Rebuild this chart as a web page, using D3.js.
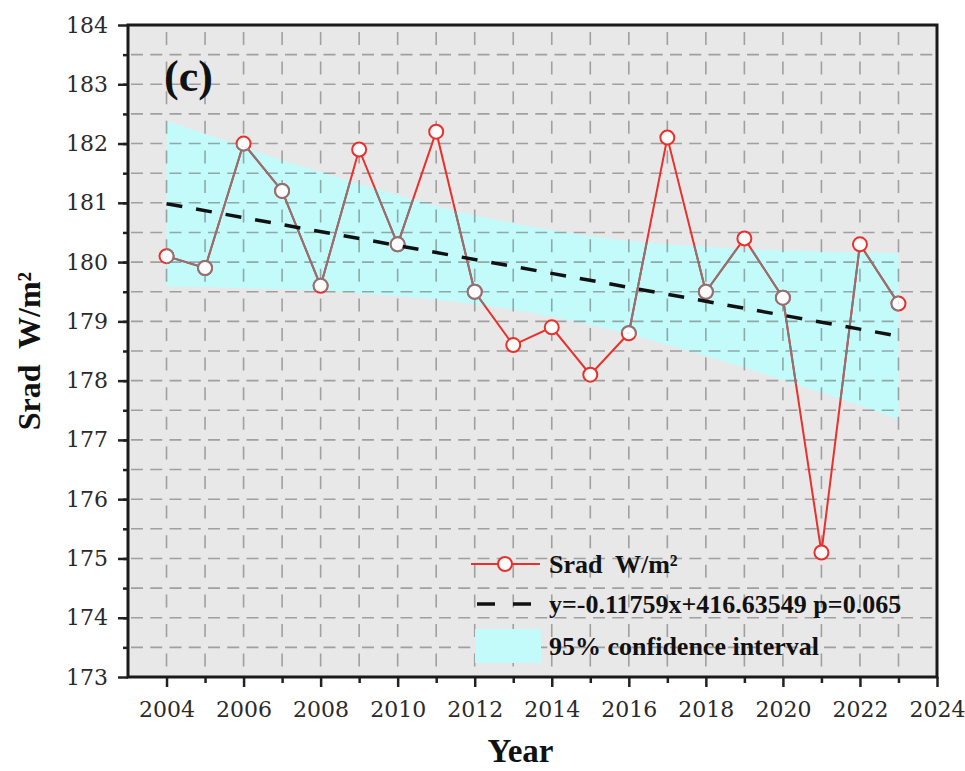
<!DOCTYPE html>
<html lang="en">
<head>
<meta charset="utf-8">
<script src="https://d3js.org/d3.v7.min.js"></script>
<style>
  body { margin: 0; background: #fff; }
  svg text { white-space: pre; }
</style>
</head>
<body>
<script>
  // data
  const years = [2004, 2005, 2006, 2007, 2008, 2009, 2010, 2011, 2012, 2013,
                 2014, 2015, 2016, 2017, 2018, 2019, 2020, 2021, 2022, 2023];
  const srad = [180.1, 179.9, 182.0, 181.2, 179.6, 181.9, 180.3, 182.2, 179.5, 178.6,
                178.9, 178.1, 178.8, 182.1, 179.5, 180.4, 179.4, 175.1, 180.3, 179.3];
  const ciUpper = [182.39, 182.16, 181.94, 181.72, 181.52, 181.32, 181.13, 180.95, 180.79, 180.66,
                   180.54, 180.44, 180.36, 180.30, 180.26, 180.22, 180.20, 180.18, 180.16, 180.15];
  const ciLower = [179.59, 179.58, 179.56, 179.54, 179.52, 179.47, 179.43, 179.37, 179.29, 179.20,
                   179.08, 178.94, 178.79, 178.60, 178.42, 178.22, 178.01, 177.80, 177.58, 177.35];
  const slope = -0.11759, intercept = 416.63549;
  const xTicks = [2004, 2006, 2008, 2010, 2012, 2014, 2016, 2018, 2020, 2022, 2024];
  const yTicks = [173, 174, 175, 176, 177, 178, 179, 180, 181, 182, 183, 184];
  const legendLabels = ["Srad  W/m\u00b2", "y=-0.11759x+416.63549 p=0.065", "95% confidence interval"];

  const W = 965, H = 771;
  const pLeft = 128, pRight = 937, pTop = 25, pBottom = 677;

  const x = d3.scaleLinear().domain([2003, 2024]).range([pLeft, pRight]);
  const y = d3.scaleLinear().domain([173, 184]).range([pBottom, pTop]);

  const svg = d3.select("body").append("svg").attr("width", W).attr("height", H);

  // plot background
  svg.append("rect").attr("x", pLeft).attr("y", pTop)
    .attr("width", pRight - pLeft).attr("height", pBottom - pTop).attr("fill", "#e8e8e8");

  const rows = years.map((yr, i) => ({ yr: yr, v: srad[i], hi: ciUpper[i], lo: ciLower[i] }));

  const area = d3.area().curve(d3.curveMonotoneX)
    .x(d => x(d.yr)).y0(d => y(d.lo)).y1(d => y(d.hi));

  // confidence band
  svg.append("path").datum(rows).attr("d", area).attr("fill", "#c3fbfb");

  svg.append("clipPath").attr("id", "bandclip")
    .append("path").datum(rows).attr("d", area);

  // dashed grid
  const grid = svg.append("g").attr("stroke", "rgba(100,100,100,0.55)").attr("stroke-width", 1.6);
  d3.range(2004, 2024).forEach(yr => {
    grid.append("line").attr("x1", x(yr)).attr("x2", x(yr)).attr("y1", pTop).attr("y2", pBottom)
      .attr("stroke-dasharray", "13,16.6").attr("stroke-dashoffset", -7);
  });
  d3.range(173.5, 184, 0.5).forEach(v => {
    grid.append("line").attr("x1", pLeft).attr("x2", pRight).attr("y1", y(v)).attr("y2", y(v))
      .attr("stroke-dasharray", "12,7.25").attr("stroke-dashoffset", -3);
  });

  const line = d3.line().x(d => x(d.yr)).y(d => y(d.v));

  function drawSeries(g, col) {
    g.append("path").datum(rows).attr("d", line)
      .attr("fill", "none").attr("stroke", col).attr("stroke-width", 2);
    g.selectAll("circle").data(rows).enter().append("circle")
      .attr("cx", d => x(d.yr)).attr("cy", d => y(d.v)).attr("r", 7)
      .attr("fill", "#fbfbfb").attr("stroke", col).attr("stroke-width", 2);
  }
  drawSeries(svg.append("g"), "#e8302c");
  // part of the series seen through the band looks greyish
  drawSeries(svg.append("g").attr("clip-path", "url(#bandclip)"), "#8f7373");

  // regression line
  svg.append("path").datum([years[0], years[years.length - 1]])
    .attr("d", d3.line().x(d => x(d)).y(d => y(slope * d + intercept)))
    .attr("fill", "none").attr("stroke", "#111").attr("stroke-width", 3.5)
    .attr("stroke-dasharray", "16,14");

  // axes
  const tickFont = "'DejaVu Serif', serif";
  const gx = svg.append("g").attr("transform", `translate(0,${pBottom})`)
    .call(d3.axisBottom(x).tickValues(xTicks).tickFormat(d3.format("d")).tickSize(10).tickPadding(14));
  const gxm = svg.append("g").attr("transform", `translate(0,${pBottom})`)
    .call(d3.axisBottom(x).tickValues(d3.range(2005, 2024, 2)).tickFormat("").tickSize(6));
  const gy = svg.append("g").attr("transform", `translate(${pLeft},0)`)
    .call(d3.axisLeft(y).tickValues(yTicks).tickFormat(d3.format("d")).tickSize(10).tickPadding(10));
  const gym = svg.append("g").attr("transform", `translate(${pLeft},0)`)
    .call(d3.axisLeft(y).tickValues(d3.range(173.5, 184, 0.5)).tickFormat("").tickSize(5));
  [gx, gxm, gy, gym].forEach(g => {
    g.select(".domain").remove();
    g.selectAll("line").attr("stroke", "#222").attr("stroke-width", 2.5);
    g.selectAll("text").attr("font-family", tickFont).attr("font-size", 22).attr("fill", "#2a2a2a");
  });

  // frame
  svg.append("rect").attr("x", pLeft).attr("y", pTop)
    .attr("width", pRight - pLeft).attr("height", pBottom - pTop)
    .attr("fill", "none").attr("stroke", "#1a1a1a").attr("stroke-width", 3);

  const boldFont = "'Liberation Serif', 'Times New Roman', serif";

  svg.append("text").attr("x", 164).attr("y", 91).text("(c)")
    .attr("font-family", boldFont).attr("font-weight", "bold").attr("font-size", 44).attr("fill", "#111");

  svg.append("text").attr("x", (pLeft + pRight) / 2 - 12).attr("y", 762).attr("text-anchor", "middle")
    .text("Year").attr("font-family", boldFont).attr("font-weight", "bold").attr("font-size", 33).attr("fill", "#111");

  svg.append("text").attr("transform", `translate(40,${(pTop + pBottom) / 2}) rotate(-90)`)
    .attr("text-anchor", "middle").text("Srad  W/m\u00b2")
    .attr("font-family", boldFont).attr("font-weight", "bold").attr("font-size", 32).attr("fill", "#111");

  // legend
  const lg = svg.append("g");
  const rowY = [564, 604, 646];
  lg.append("line").attr("x1", 471).attr("x2", 540).attr("y1", rowY[0]).attr("y2", rowY[0])
    .attr("stroke", "#e8302c").attr("stroke-width", 2);
  lg.append("circle").attr("cx", 505).attr("cy", rowY[0]).attr("r", 7)
    .attr("fill", "#fbfbfb").attr("stroke", "#e8302c").attr("stroke-width", 2);
  lg.append("line").attr("x1", 477).attr("x2", 535).attr("y1", rowY[1]).attr("y2", rowY[1])
    .attr("stroke", "#111").attr("stroke-width", 3.5).attr("stroke-dasharray", "18,18");
  lg.append("rect").attr("x", 475).attr("y", rowY[2] - 17).attr("width", 66).attr("height", 34)
    .attr("fill", "#c3fbfb");
  lg.selectAll("text.lab").data(legendLabels).enter().append("text").attr("class", "lab")
    .attr("x", 549).attr("y", (d, i) => rowY[i]).attr("dy", "0.34em").text(d => d)
    .attr("font-family", boldFont).attr("font-weight", "bold").attr("font-size", 26).attr("fill", "#111");
</script>
</body>
</html>
